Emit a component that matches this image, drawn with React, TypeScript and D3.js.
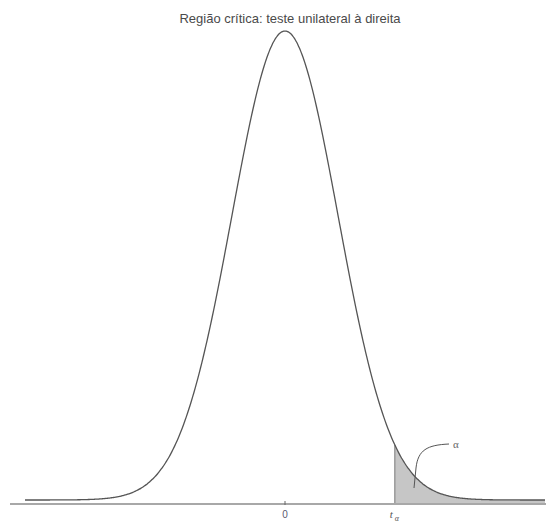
import React from "react";
import * as d3 from "d3";

// Distribution / chart data
const title = "Região crítica: teste unilateral à direita";
const domainZ: [number, number] = [-4.9, 4.9];
const criticalValue = 2.07; // t_alpha in standard units
const tickValues = [0];
const tickLabels = ["0"];
const samples = 400;

const W = 547;
const H = 523;

function pdf(z: number) {
  return Math.exp(-0.5 * z * z) / Math.sqrt(2 * Math.PI);
}

export default function App() {
  const x = d3.scaleLinear().domain(domainZ).range([25, 545]);
  const y = d3.scaleLinear().domain([0, pdf(0)]).range([500, 31]);
  const axisY = 504;

  const pts = d3.range(samples + 1).map((i) => domainZ[0] + (i / samples) * (domainZ[1] - domainZ[0]));
  const curve = d3
    .line<number>()
    .x((d) => x(d))
    .y((d) => y(pdf(d)))
    .curve(d3.curveBasis)(pts) as string;

  const tailPts = pts.filter((d) => d >= criticalValue);
  tailPts.unshift(criticalValue);
  const tail = d3
    .area<number>()
    .x((d) => x(d))
    .y0(axisY)
    .y1((d) => y(pdf(d)))(tailPts) as string;

  const xc = x(criticalValue);
  const ax = 449, ay = 444;
  const bx = 414, by = 488;
  const arrow = `M${ax},${ay} C${ax - 22},${ay + 1} ${bx + 4},${ay + 6} ${bx + 2},${by - 20} L${bx},${by}`;

  return (
    <svg
      width={W}
      height={H}
      style={{ position: "absolute", left: 0, top: 0, background: "#fff" }}
      fontFamily="Liberation Sans, Arial, sans-serif"
    >
      <text x={290} y={23} textAnchor="middle" fontSize={13} fill="#4a4a4a">
        {title}
      </text>
      <path d={tail} fill="#c6c6c6" stroke="none" />
      <line x1={xc} x2={xc} y1={axisY} y2={y(pdf(criticalValue))} stroke="#777" strokeWidth={1} />
      <line x1={10} x2={546} y1={axisY} y2={axisY} stroke="#a8a8a8" strokeWidth={2} />
      <path d={curve} fill="none" stroke="#555" strokeWidth={1.3} />
      {tickValues.map((t, i) => (
        <g key={i}>
          <line x1={x(t)} x2={x(t)} y1={axisY - 3} y2={axisY + 1} stroke="#666" strokeWidth={1} />
          <text x={x(t)} y={518} textAnchor="middle" fontSize={10} fill="#5a5a70">
            {tickLabels[i]}
          </text>
        </g>
      ))}
      <text x={xc - 5} y={518} fontSize={11} fontStyle="italic" fill="#555" fontFamily="Liberation Serif, serif">
        t
      </text>
      <text x={xc} y={521} fontSize={8} fontStyle="italic" fill="#555" fontFamily="Liberation Serif, serif">
        α
      </text>
      <path d={arrow} fill="none" stroke="#555" strokeWidth={1} />
      <text x={453} y={448} fontSize={11} fill="#666" fontFamily="Liberation Serif, serif">
        α
      </text>
    </svg>
  );
}
